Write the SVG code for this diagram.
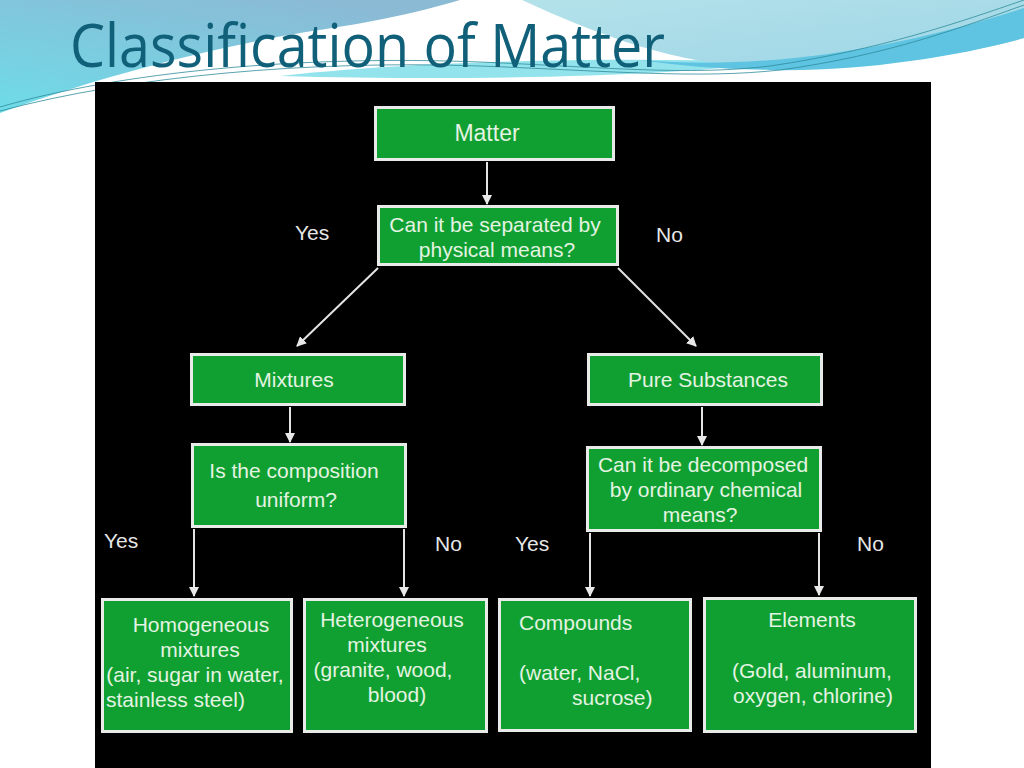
<svg xmlns="http://www.w3.org/2000/svg" width="1024" height="768" viewBox="0 0 1024 768">
  <defs>
    <linearGradient id="gLeft" x1="0.7" y1="0" x2="0" y2="1">
      <stop offset="0" stop-color="#8bbad5"/>
      <stop offset="1" stop-color="#6edce8"/>
    </linearGradient>
    <linearGradient id="gRight" x1="0" y1="0" x2="1" y2="1">
      <stop offset="0" stop-color="#b4e2ea"/>
      <stop offset="1" stop-color="#9dd5e6"/>
    </linearGradient>
    <marker id="arr" viewBox="0 0 10 10" refX="9" refY="5" markerWidth="5" markerHeight="5" orient="auto" markerUnits="strokeWidth">
      <path d="M0,0 L10,5 L0,10 Z" fill="#e8e8e8"/>
    </marker>
    <style>
      .box { fill: #10a031; stroke: #e8ebe8; stroke-width: 3; }
      .t { font-family: "Liberation Sans", Arial, sans-serif; font-size: 21px; fill: #e4f3e2; }
      .c { text-anchor: middle; }
      .lbl { font-family: "Liberation Sans", Arial, sans-serif; font-size: 21px; fill: #e6e6e6; }
      .con { stroke: #e4e4e4; stroke-width: 2; fill: none; marker-end: url(#arr); }
      .thin { stroke: #2f8c9c; stroke-width: 0.8; fill: none; }
    </style>
  </defs>

  <!-- slide background -->
  <rect x="0" y="0" width="1024" height="768" fill="#ffffff"/>
  <g id="header-decoration">
    <path d="M0,0 H460 C400,18 340,27 300,33 C200,50 90,80 0,113 Z" fill="url(#gLeft)"/>
    <path d="M280,76 C400,62 600,56 770,62 C700,74 500,82 280,76 Z" fill="#93e3ec"/>
    <path d="M522,0 H1024 V38 C960,56 860,70 770,68 C680,66 600,36 522,0 Z" fill="url(#gRight)"/>
    <path d="M640,60 C780,72 920,42 1024,8 V38 C960,56 860,72 770,70 C720,69 680,66 640,60 Z" fill="#5ec4e2"/>
    <path class="thin" d="M0,107 C120,72 300,55 480,62 C600,67 690,76 770,66 C880,50 960,22 1024,0"/>
    <path class="thin" d="M0,111 C130,76 310,60 480,66 C610,71 700,79 780,70 C890,55 965,26 1024,5"/>
  </g>

  <text x="70" y="67" font-family="Open Sans, Liberation Sans, sans-serif" font-size="60" fill="#11607a" textLength="595" lengthAdjust="spacingAndGlyphs">Classification of Matter</text>

  <!-- black picture area -->
  <rect x="95" y="82" width="836" height="686" fill="#000000"/>

  <g id="connectors">
    <line class="con" x1="487" y1="162" x2="487" y2="204"/>
    <line class="con" x1="378" y1="268" x2="297" y2="346"/>
    <line class="con" x1="618" y1="268" x2="696" y2="346"/>
    <line class="con" x1="290" y1="407" x2="290" y2="442"/>
    <line class="con" x1="702" y1="407" x2="702" y2="445"/>
    <line class="con" x1="194" y1="529" x2="194" y2="596"/>
    <line class="con" x1="404" y1="529" x2="404" y2="596"/>
    <line class="con" x1="590" y1="533" x2="590" y2="596"/>
    <line class="con" x1="819" y1="533" x2="819" y2="595"/>
  </g>

  <g id="labels">
    <text class="lbl" x="295" y="240">Yes</text>
    <text class="lbl" x="656" y="242">No</text>
    <text class="lbl" x="104" y="548">Yes</text>
    <text class="lbl" x="435" y="551">No</text>
    <text class="lbl" x="515" y="551">Yes</text>
    <text class="lbl" x="857" y="551">No</text>
  </g>

  <g id="matter">
    <rect class="box" x="375.5" y="107.5" width="238" height="52"/>
    <text class="t c" x="487" y="141" style="font-size:23px">Matter</text>
  </g>

  <g id="q-physical">
    <rect class="box" x="378.5" y="206.5" width="239" height="58"/>
    <text class="t c" x="495" y="232">Can it be separated by</text>
    <text class="t c" x="497" y="257">physical means?</text>
  </g>

  <g id="mixtures">
    <rect class="box" x="191.5" y="354.5" width="213" height="50"/>
    <text class="t c" x="294" y="387">Mixtures</text>
  </g>

  <g id="pure-substances">
    <rect class="box" x="588.5" y="354.5" width="233" height="50"/>
    <text class="t c" x="708" y="387">Pure Substances</text>
  </g>

  <g id="q-uniform">
    <rect class="box" x="192.5" y="444.5" width="213" height="82"/>
    <text class="t c" x="294" y="478">Is the composition</text>
    <text class="t c" x="296" y="507">uniform?</text>
  </g>

  <g id="q-decompose">
    <rect class="box" x="587.5" y="447.5" width="233" height="83"/>
    <text class="t c" x="703" y="472">Can it be decomposed</text>
    <text class="t c" x="706" y="497">by ordinary chemical</text>
    <text class="t c" x="700" y="522">means?</text>
  </g>

  <g id="homogeneous">
    <rect class="box" x="102.5" y="599.5" width="189" height="132"/>
    <text class="t c" x="201" y="632">Homogeneous</text>
    <text class="t c" x="200" y="657">mixtures</text>
    <text class="t c" x="195" y="682">(air, sugar in water,</text>
    <text class="t" x="106" y="707">stainless steel)</text>
  </g>

  <g id="heterogeneous">
    <rect class="box" x="304.5" y="599.5" width="182" height="132"/>
    <text class="t c" x="392" y="627">Heterogeneous</text>
    <text class="t c" x="387" y="652">mixtures</text>
    <text class="t c" x="383" y="677">(granite, wood,</text>
    <text class="t c" x="397" y="702">blood)</text>
  </g>

  <g id="compounds">
    <rect class="box" x="499.5" y="599.5" width="191" height="131"/>
    <text class="t" x="519" y="630">Compounds</text>
    <text class="t" x="519" y="680">(water, NaCl,</text>
    <text class="t" x="572" y="705">sucrose)</text>
  </g>

  <g id="elements">
    <rect class="box" x="704.5" y="598.5" width="211" height="133"/>
    <text class="t c" x="812" y="627">Elements</text>
    <text class="t c" x="812" y="678">(Gold, aluminum,</text>
    <text class="t c" x="813" y="703">oxygen, chlorine)</text>
  </g>
</svg>
